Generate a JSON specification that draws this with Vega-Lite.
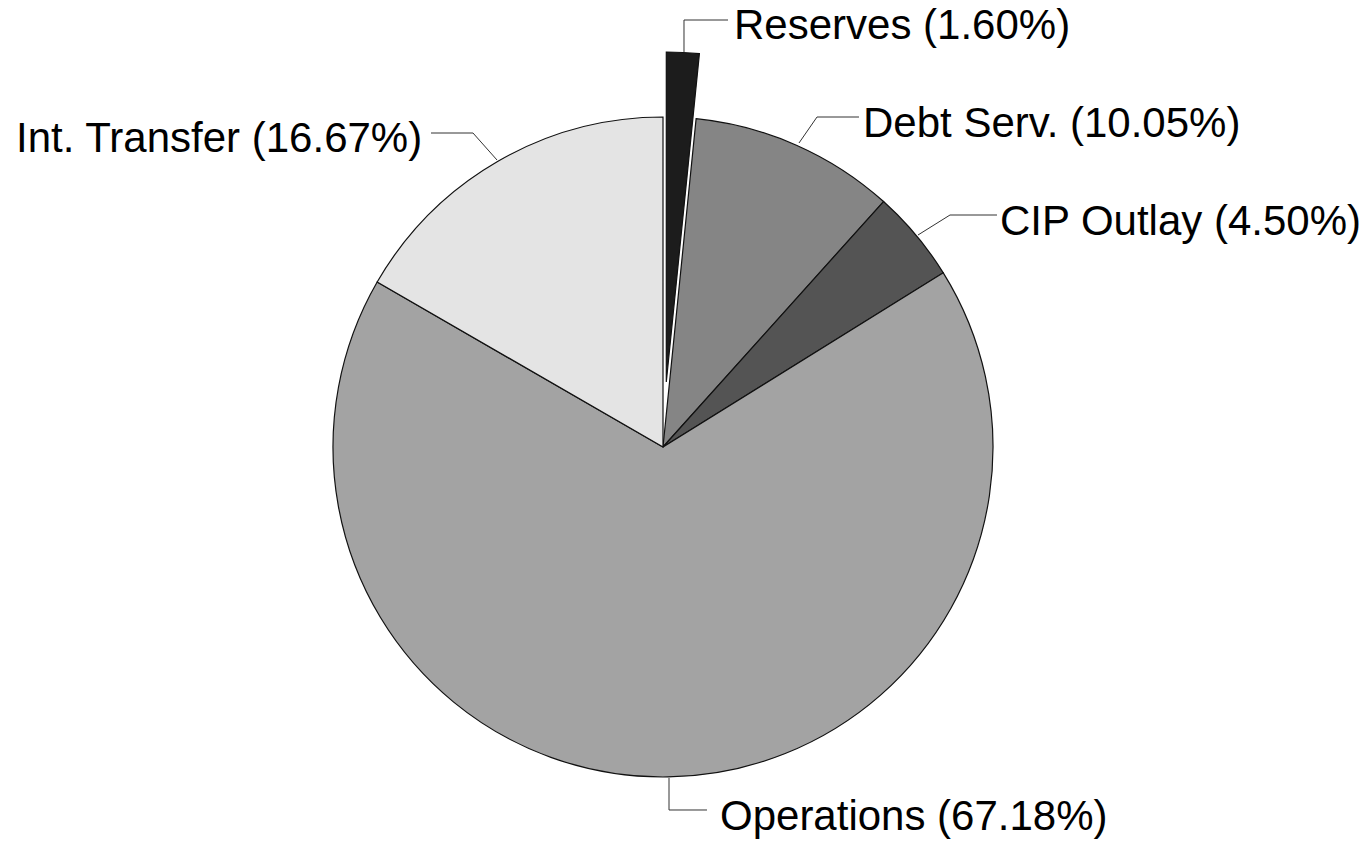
{
  "$schema": "https://vega.github.io/schema/vega-lite/v6.json",
  "width": 1372,
  "height": 842,
  "autosize": {"type": "fit", "contains": "padding"},
  "padding": 0,
  "background": "white",
  "config": {"view": {"stroke": null}},
  "datasets": {
    "slices": [
      {"cat": "Reserves", "pct": 1.60, "order": 1},
      {"cat": "Debt Serv.", "pct": 10.05, "order": 2},
      {"cat": "CIP Outlay", "pct": 4.50, "order": 3},
      {"cat": "Operations", "pct": 67.18, "order": 4},
      {"cat": "Int. Transfer", "pct": 16.67, "order": 5}
    ],
    "labels": [
      {"text": "Reserves (1.60%)", "x": 0.2152, "y": 1.2364},
      {"text": "Debt Serv. (10.05%)", "x": 0.6061, "y": 0.9394},
      {"text": "CIP Outlay (4.50%)", "x": 1.0212, "y": 0.6424},
      {"text": "Int. Transfer (16.67%)", "x": -1.9606, "y": 0.8939},
      {"text": "Operations (67.18%)", "x": 0.1727, "y": -1.1606}
    ],
    "leaders": [
      {"x": 0.1970, "y": 1.2939, "x2": 0.0636, "y2": 1.2939},
      {"x": 0.0636, "y": 1.2939, "x2": 0.0636, "y2": 1.1970},
      {"x": 0.5939, "y": 1.0, "x2": 0.4667, "y2": 1.0},
      {"x": 0.4667, "y": 1.0, "x2": 0.4121, "y2": 0.9212},
      {"x": 1.0121, "y": 0.7030, "x2": 0.8697, "y2": 0.7030},
      {"x": 0.8697, "y": 0.7030, "x2": 0.7727, "y2": 0.6424},
      {"x": -0.7030, "y": 0.9515, "x2": -0.5758, "y2": 0.9515},
      {"x": -0.5758, "y": 0.9515, "x2": -0.5030, "y2": 0.8697},
      {"x": 0.1333, "y": -1.1, "x2": 0.0182, "y2": -1.1},
      {"x": 0.0182, "y": -1.1, "x2": 0.0182, "y2": -1.0030}
    ]
  },
  "layer": [
    {
      "data": {"name": "slices"},
      "transform": [
        {"stack": "pct", "groupby": [], "sort": [{"field": "order"}], "as": ["start", "end"]},
        {"filter": "datum.cat !== 'Reserves'"}
      ],
      "mark": {"type": "arc", "outerRadius": 330, "stroke": "#111111", "strokeWidth": 1.2},
      "encoding": {
        "x": {"datum": 0, "type": "quantitative", "scale": {"domain": [-2.00909, 2.14848], "nice": false, "zero": false}, "axis": null},
        "y": {"datum": 0, "type": "quantitative", "scale": {"domain": [-1.19697, 1.35455], "nice": false, "zero": false}, "axis": null},
        "theta": {"field": "start", "type": "quantitative", "scale": {"domain": [0, 100]}},
        "theta2": {"field": "end"},
        "color": {
          "field": "cat", "type": "nominal", "legend": null,
          "scale": {
            "domain": ["Reserves", "Debt Serv.", "CIP Outlay", "Operations", "Int. Transfer"],
            "range": ["#1c1c1c", "#858585", "#545454", "#a3a3a3", "#e4e4e4"]
          }
        }
      }
    },
    {
      "data": {"name": "slices"},
      "transform": [
        {"stack": "pct", "groupby": [], "sort": [{"field": "order"}], "as": ["start", "end"]},
        {"filter": "datum.cat === 'Reserves'"}
      ],
      "mark": {"type": "arc", "outerRadius": 330, "stroke": "#111111", "strokeWidth": 1.2},
      "encoding": {
        "x": {"datum": 0.01, "type": "quantitative"},
        "y": {"datum": 0.197, "type": "quantitative"},
        "theta": {"field": "start", "type": "quantitative"},
        "theta2": {"field": "end"},
        "color": {"field": "cat", "type": "nominal", "legend": null}
      }
    },
    {
      "data": {"name": "leaders"},
      "mark": {"type": "rule", "stroke": "#333333", "strokeWidth": 1},
      "encoding": {
        "x": {"field": "x", "type": "quantitative"},
        "y": {"field": "y", "type": "quantitative"},
        "x2": {"field": "x2"},
        "y2": {"field": "y2"}
      }
    },
    {
      "data": {"name": "labels"},
      "mark": {"type": "text", "align": "left", "baseline": "alphabetic", "font": "Liberation Sans", "fontSize": 42, "fill": "#000000"},
      "encoding": {
        "x": {"field": "x", "type": "quantitative"},
        "y": {"field": "y", "type": "quantitative"},
        "text": {"field": "text"}
      }
    }
  ]
}
